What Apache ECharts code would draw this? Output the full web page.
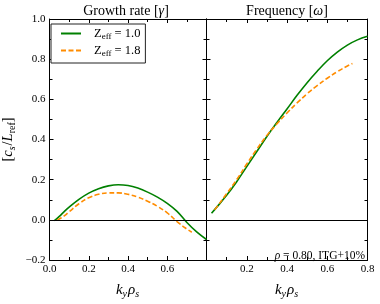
<!DOCTYPE html>
<html>
<head>
<meta charset="utf-8">
<script src="https://cdn.jsdelivr.net/npm/echarts@6/dist/echarts.min.js"></script>
<style>
html,body{margin:0;padding:0;background:#fff;}
#c{width:380px;height:304px;}
</style>
</head>
<body>
<div id="c"></div>
<script>
// ---- data ----
var growthK_Z10 = [0.025,0.05,0.075,0.1,0.15,0.2,0.25,0.3,0.35,0.4,0.45,0.5,0.55,0.6,0.65,0.7,0.75,0.8];
var growth_Z10  = [-0.004,0.017,0.041,0.063,0.102,0.133,0.155,0.169,0.175,0.171,0.158,0.138,0.113,0.082,0.042,-0.013,-0.060,-0.098];
var growthK_Z18 = [0.04,0.05,0.075,0.1,0.15,0.2,0.25,0.3,0.35,0.4,0.45,0.5,0.55,0.6,0.65,0.7,0.725];
var growth_Z18  = [-0.002,0.004,0.020,0.040,0.080,0.110,0.127,0.134,0.134,0.127,0.113,0.093,0.067,0.035,-0.009,-0.046,-0.062];
var freqK_Z10 = [0.025,0.05,0.1,0.15,0.2,0.25,0.3,0.35,0.4,0.45,0.5,0.55,0.6,0.65,0.7,0.75,0.8];
var freq_Z10  = [0.033,0.062,0.122,0.19,0.265,0.34,0.415,0.485,0.552,0.62,0.683,0.74,0.792,0.835,0.87,0.896,0.914];
var freqK_Z18 = [0.04,0.05,0.1,0.15,0.2,0.25,0.3,0.35,0.4,0.45,0.5,0.55,0.6,0.65,0.7,0.725];
var freq_Z18  = [0.05,0.062,0.13,0.2,0.278,0.352,0.42,0.478,0.532,0.582,0.628,0.668,0.705,0.738,0.766,0.778];
var seriesNames = ['Z10','Z18'];
var legendLabels = {Z10: '1.0', Z18: '1.8'};
var panelTitles = [['Growth rate [', 'γ', ']'], ['Frequency [', 'ω', ']']];
var xTicks = [0, 0.2, 0.4, 0.6, 0.8];
var yMin = -0.2, yMax = 1.0, tickStep = 0.2;

function pairs(k, v){ return k.map(function(x,i){ return [x, v[i]]; }); }

var SERIF = 'Liberation Serif';
var GREEN = '#008000', ORANGE = '#ff8c00';

function fmt(v){ var s = Math.abs(v).toFixed(1); return (v < -1e-9 ? '\u2212' : '') + s; }

function baseAxis(extra){
  var a = {
    type: 'value',
    axisLine: {show: true, onZero: false, lineStyle: {color: '#000', width: 1}},
    axisTick: {show: true, inside: true, length: 4, lineStyle: {color: '#000', width: 1}},
    minorTick: {show: true, splitNumber: 2, length: 3, lineStyle: {color: '#000', width: 1}},
    splitLine: {show: false},
    minorSplitLine: {show: false},
    axisLabel: {show: false}
  };
  for (var k in extra) a[k] = extra[k];
  return a;
}

function richSet(size, subSize, lh){
  return {
    n: {fontFamily: SERIF, fontSize: size, fontWeight: 'normal', color: '#000', lineHeight: lh, verticalAlign: 'middle'},
    i: {fontFamily: SERIF, fontSize: size, fontWeight: 'normal', fontStyle: 'italic', color: '#000', lineHeight: lh, verticalAlign: 'middle'},
    si: {fontFamily: SERIF, fontSize: subSize, fontWeight: 'normal', fontStyle: 'italic', color: '#000', lineHeight: lh, verticalAlign: 'bottom', padding: [0,1,0,0]},
    s: {fontFamily: SERIF, fontSize: subSize, fontWeight: 'normal', color: '#000', lineHeight: lh, verticalAlign: 'bottom'}
  };
}

var xLabelLeft = {show: true, color: '#000', fontFamily: SERIF, fontSize: 11, margin: 4,
  formatter: function(v){ return v > 0.75 ? '' : v.toFixed(1); }};
var xLabelRight = {show: true, color: '#000', fontFamily: SERIF, fontSize: 11, margin: 4,
  formatter: function(v){ return v < 0.05 ? '' : v.toFixed(1); }};

var xName = '{i|k}{si|y}{i|ρ}{si|s}';
var xNameStyle = {rich: richSet(15, 10, 18)};

var option = {
  animation: false,
  backgroundColor: '#fff',
  title: [0,1].map(function(p){
    return {
      text: '{n|' + panelTitles[p][0] + '}{i|' + panelTitles[p][1] + '}{n|' + panelTitles[p][2] + '}',
      left: p === 0 ? 126 : 287, top: 3, textAlign: 'center', padding: 0,
      textStyle: {fontWeight: 'normal', rich: richSet(14, 9, 16)}
    };
  }),
  grid: [
    {left: 45, top: 19, width: 161.5, height: 248},
    {left: 206.5, top: 19, width: 161, height: 248}
  ],
  xAxis: [
    baseAxis({gridIndex: 0, position: 'bottom', min: xTicks[0], max: xTicks[xTicks.length-1], interval: tickStep,
      axisLabel: xLabelLeft, name: xName, nameLocation: 'middle', nameGap: 21, nameTextStyle: xNameStyle}),
    baseAxis({gridIndex: 0, position: 'top', min: xTicks[0], max: xTicks[xTicks.length-1], interval: tickStep}),
    baseAxis({gridIndex: 1, position: 'bottom', min: xTicks[0], max: xTicks[xTicks.length-1], interval: tickStep,
      axisLabel: xLabelRight, name: xName, nameLocation: 'middle', nameGap: 21, nameTextStyle: xNameStyle}),
    baseAxis({gridIndex: 1, position: 'top', min: xTicks[0], max: xTicks[xTicks.length-1], interval: tickStep})
  ],
  yAxis: [
    baseAxis({gridIndex: 0, position: 'left', min: yMin, max: yMax, interval: tickStep,
      axisLabel: {show: true, color: '#000', fontFamily: SERIF, fontSize: 11, margin: 4, formatter: fmt},
      name: '{n|[}{i|c}{si|s}{n|/}{i|L}{s|ref}{n|]}', nameLocation: 'middle', nameGap: 32, nameRotate: 90,
      nameTextStyle: {rich: richSet(14.5, 10, 18)}}),
    baseAxis({gridIndex: 0, position: 'right', min: yMin, max: yMax, interval: tickStep}),
    baseAxis({gridIndex: 1, position: 'left', min: yMin, max: yMax, interval: tickStep}),
    baseAxis({gridIndex: 1, position: 'right', min: yMin, max: yMax, interval: tickStep})
  ],
  legend: {
    data: seriesNames,
    orient: 'vertical',
    left: 51, top: 24,
    padding: [3, 5, 5, 9],
    itemGap: 3,
    itemWidth: 20, itemHeight: 12,
    backgroundColor: '#fff',
    borderColor: '#222', borderWidth: 1, borderRadius: 0,
    itemStyle: {color: 'rgba(0,0,0,0)', borderColor: 'rgba(0,0,0,0)', borderWidth: 0},
    formatter: function(name){ return '{n|Z}{s|eff}{n| = ' + legendLabels[name] + '}'; },
    textStyle: {padding: [0, 0, 0, 8], rich: {
      n: {fontFamily: SERIF, fontSize: 12.5, color: '#000', lineHeight: 15, verticalAlign: 'middle'},
      s: {fontFamily: SERIF, fontSize: 9, color: '#000', lineHeight: 15, verticalAlign: 'bottom'}
    }}
  },
  graphic: [{
    type: 'text', x: 365, y: 256, z: 10,
    style: {
      text: '{i|ρ}{n| = 0.80, ITG+10%}', align: 'right', verticalAlign: 'middle',
      rich: {
        i: {fontFamily: SERIF, fontSize: 11.5, fontStyle: 'italic', fill: '#000'},
        n: {fontFamily: SERIF, fontSize: 11.5, fill: '#000'}
      }
    }
  }],
  series: [
    {name: 'Z10', type: 'line', xAxisIndex: 0, yAxisIndex: 0, data: pairs(growthK_Z10, growth_Z10),
     smooth: 0.4, showSymbol: false, symbol: 'none', lineStyle: {color: GREEN, width: 1.6}, itemStyle: {color: GREEN},
     markLine: {silent: true, symbol: 'none', label: {show: false}, data: [{yAxis: 0}],
       lineStyle: {color: '#000', type: 'solid', width: 1}}},
    {name: 'Z18', type: 'line', xAxisIndex: 0, yAxisIndex: 0, data: pairs(growthK_Z18, growth_Z18),
     smooth: 0.4, showSymbol: false, symbol: 'none', lineStyle: {color: ORANGE, width: 1.6, type: [5, 2.5]}, itemStyle: {color: ORANGE}},
    {name: 'Z10', type: 'line', xAxisIndex: 2, yAxisIndex: 2, data: pairs(freqK_Z10, freq_Z10),
     smooth: 0.4, showSymbol: false, symbol: 'none', lineStyle: {color: GREEN, width: 1.6}, itemStyle: {color: GREEN},
     markLine: {silent: true, symbol: 'none', label: {show: false}, data: [{yAxis: 0}],
       lineStyle: {color: '#000', type: 'solid', width: 1}}},
    {name: 'Z18', type: 'line', xAxisIndex: 2, yAxisIndex: 2, data: pairs(freqK_Z18, freq_Z18),
     smooth: 0.4, showSymbol: false, symbol: 'none', lineStyle: {color: ORANGE, width: 1.6, type: [5, 2.5]}, itemStyle: {color: ORANGE}}
  ]
};

var chart = echarts.init(document.getElementById('c'), null, {renderer: 'canvas'});
chart.setOption(option);
</script>
</body>
</html>
